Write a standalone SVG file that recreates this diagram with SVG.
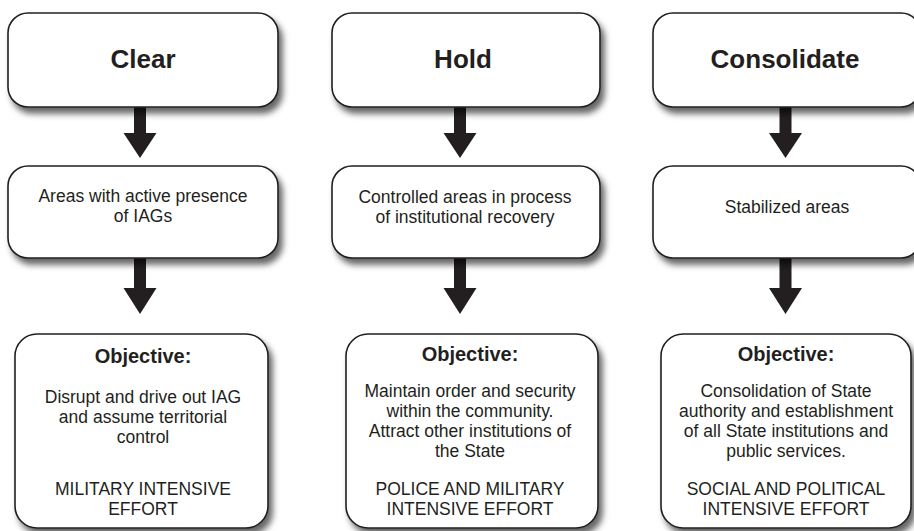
<svg xmlns="http://www.w3.org/2000/svg" width="914" height="531" viewBox="0 0 914 531">
<style>
.box{fill:#fff;stroke:#231f20;stroke-width:1.6;filter:url(#sh)}
.t{font-family:"Liberation Sans",Arial,sans-serif;fill:#231f20;text-anchor:middle}
.title{font-size:26px;font-weight:bold}
.mid{font-size:17.5px}
.obj{font-size:20px;font-weight:bold}
.body{font-size:17.5px}
.arr{fill:#231f20}
</style>
<defs>
<filter id="sh" x="-10%" y="-10%" width="125%" height="135%">
<feDropShadow dx="4" dy="6" stdDeviation="3" flood-color="#000" flood-opacity="0.6"/>
</filter>
</defs>
<g id="connectors">
<path class="arr" d="M134 107H146V133H156.5L140 158L123.5 133H134Z"/>
<path class="arr" d="M134 258H146V288H156.5L140 314L123.5 288H134Z"/>
<path class="arr" d="M454 107H466V133H476.5L460 158L443.5 133H454Z"/>
<path class="arr" d="M454 258H466V288H476.5L460 314L443.5 288H454Z"/>
<path class="arr" d="M779.5 107H791.5V133H802L785.5 158L769 133H779.5Z"/>
<path class="arr" d="M779.5 258H791.5V288H802L785.5 314L769 288H779.5Z"/>
</g>
<g id="clear">
<rect class="box" x="8" y="13" width="270" height="94" rx="20"/>
<text class="t title" x="143" y="68">Clear</text>
</g>
<g id="hold">
<rect class="box" x="332" y="13" width="268" height="94" rx="20"/>
<text class="t title" x="463" y="68">Hold</text>
</g>
<g id="consolidate">
<rect class="box" x="653" y="13" width="268" height="94" rx="20"/>
<text class="t title" x="785" y="68">Consolidate</text>
</g>
<g id="areas-iag">
<rect class="box" x="8" y="166" width="270" height="92" rx="20"/>
<text class="t mid" x="143" y="202">Areas with active presence</text>
<text class="t mid" x="143" y="222">of IAGs</text>
</g>
<g id="controlled-areas">
<rect class="box" x="332" y="166" width="268" height="92" rx="20"/>
<text class="t mid" x="465" y="203">Controlled areas in process</text>
<text class="t mid" x="465" y="223">of institutional recovery</text>
</g>
<g id="stabilized-areas">
<rect class="box" x="653" y="166" width="268" height="92" rx="20"/>
<text class="t mid" x="787" y="213">Stabilized areas</text>
</g>
<g id="objective-clear">
<rect class="box" x="15" y="334" width="253" height="194" rx="22"/>
<text class="t obj" x="143" y="363">Objective:</text>
<text class="t body" x="143" y="403">Disrupt and drive out IAG</text>
<text class="t body" x="143" y="423">and assume territorial</text>
<text class="t body" x="143" y="443">control</text>
<text class="t body" x="143" y="495">MILITARY INTENSIVE</text>
<text class="t body" x="143" y="515">EFFORT</text>
</g>
<g id="objective-hold">
<rect class="box" x="346" y="334" width="252" height="194" rx="22"/>
<text class="t obj" x="470" y="361">Objective:</text>
<text class="t body" x="470" y="397">Maintain order and security</text>
<text class="t body" x="470" y="417">within the community.</text>
<text class="t body" x="470" y="437">Attract other institutions of</text>
<text class="t body" x="470" y="457">the State</text>
<text class="t body" x="470" y="495">POLICE AND MILITARY</text>
<text class="t body" x="470" y="515">INTENSIVE EFFORT</text>
</g>
<g id="objective-consolidate">
<rect class="box" x="661" y="334" width="250" height="194" rx="22"/>
<text class="t obj" x="786" y="361">Objective:</text>
<text class="t body" x="786" y="397">Consolidation of State</text>
<text class="t body" x="786" y="417">authority and establishment</text>
<text class="t body" x="786" y="437">of all State institutions and</text>
<text class="t body" x="786" y="457">public services.</text>
<text class="t body" x="786" y="495">SOCIAL AND POLITICAL</text>
<text class="t body" x="786" y="515">INTENSIVE EFFORT</text>
</g>
</svg>
